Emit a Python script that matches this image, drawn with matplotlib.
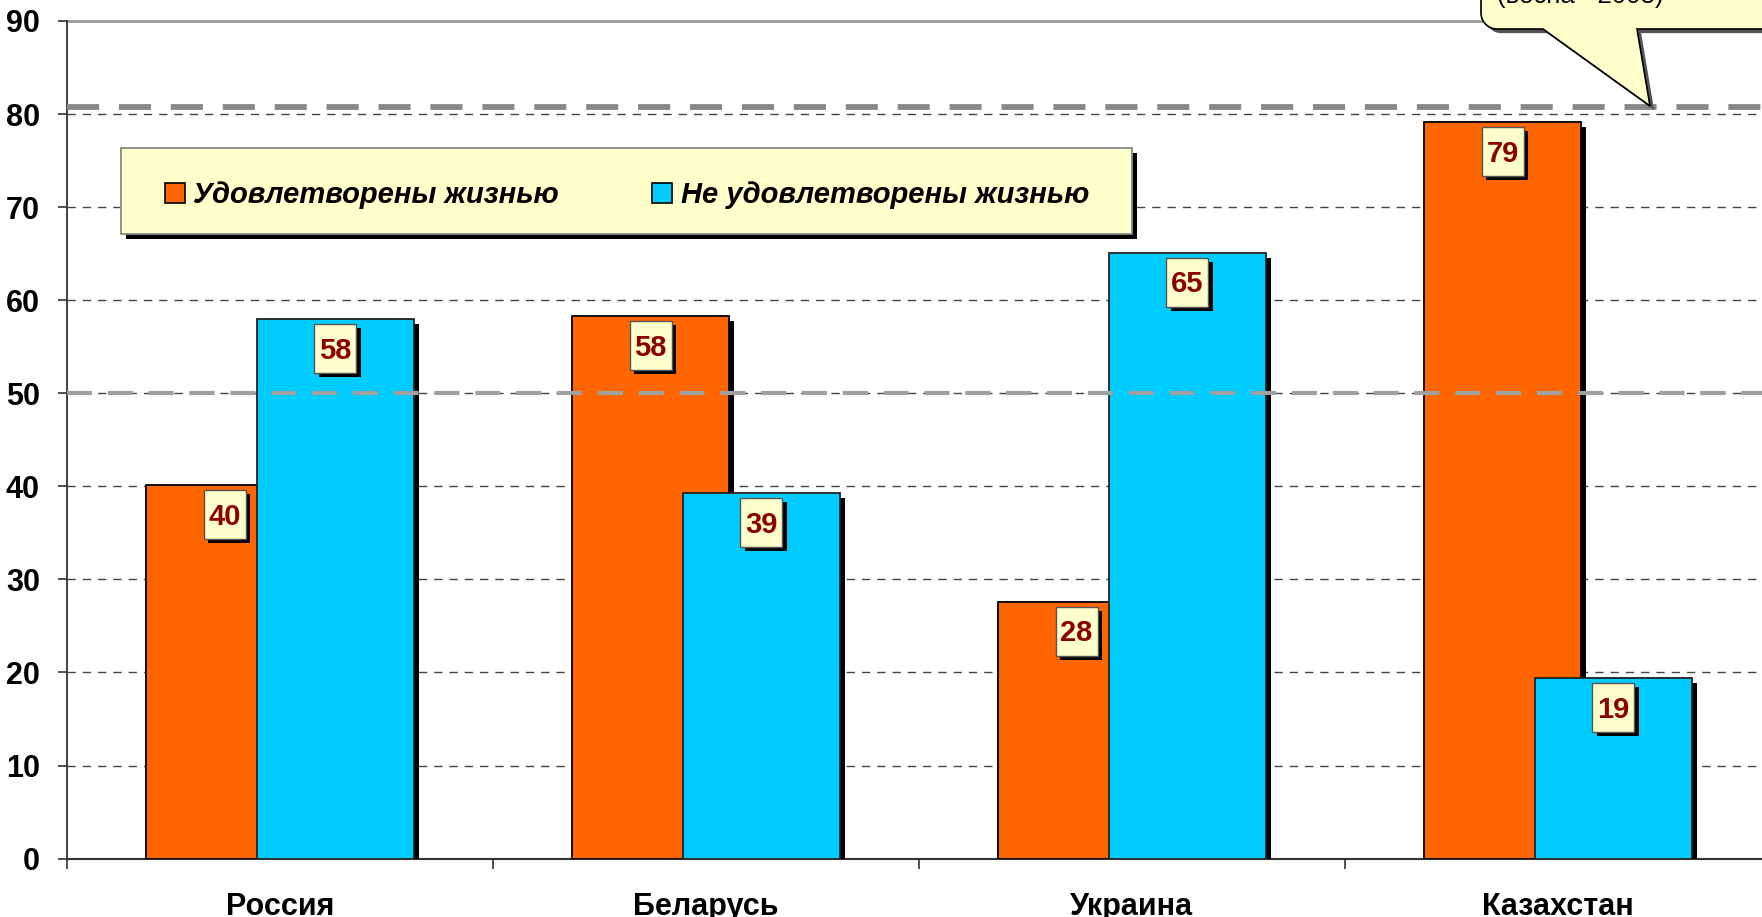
import matplotlib
matplotlib.use('Agg')
import matplotlib.pyplot as plt
import matplotlib.patheffects as pe
import matplotlib.transforms as mtransforms
from matplotlib.patches import Rectangle, Polygon
import numpy as np

# ---------------- data ----------------
countries = ['Россия', 'Беларусь', 'Украина', 'Казахстан']
satisfied = [40.1, 58.3, 27.6, 79.1]
not_satisfied = [58.0, 39.3, 65.1, 19.4]
series_names = ['Удовлетворены жизнью', 'Не удовлетворены жизнью']
ref_lines = [80.8, 50.0]
yticks = list(range(0, 91, 10))
callout_text = '(весна - 2008)'

# ---------------- style ----------------
W, H = 1762, 917
DPI = 100
ORANGE = '#FF6600'
BLUE = '#00CCFF'
LABEL_BG = '#FFFFCC'
LABEL_FG = '#8B0000'
FONT = 'Liberation Sans'

plt.rcParams['font.family'] = [FONT, 'DejaVu Sans']

fig = plt.figure(figsize=(W / DPI, H / DPI), dpi=DPI)
fig.patch.set_facecolor('white')

def fx(px):
    return px / W

def fy(py):
    return 1 - py / H

ax_left, ax_right = 67, 1771
ax_top, ax_bottom = 21, 858.6
ax = fig.add_axes([fx(ax_left), fy(ax_bottom), (ax_right - ax_left) / W, (ax_bottom - ax_top) / H])

x = np.arange(len(countries))
width = 0.37
off = 0.13

shadow = [pe.SimplePatchShadow(offset=(3.6, -3.6), shadow_rgbFace='black', alpha=1.0), pe.Normal()]

b1 = ax.bar(x - off, satisfied, width, color=ORANGE, edgecolor='black', linewidth=1.3, zorder=3)
b2 = ax.bar(x + off, not_satisfied, width, color=BLUE, edgecolor='#222222', linewidth=1.3, zorder=4)
for b in list(b1) + list(b2):
    b.set_path_effects(shadow)

# reference lines
ax.axhline(ref_lines[0], color='#888888', lw=4.2, dashes=(5.5, 3.4), zorder=5)
ax.axhline(ref_lines[1], color='#A0A0A0', lw=3.0, dashes=(6, 3.8), zorder=5)

# value labels: box 42x49 px, top 5 px below the bar top
box_shadow = [pe.SimplePatchShadow(offset=(3.0, -2.8), shadow_rgbFace='black', alpha=1.0), pe.Normal()]
for xs, vals in ((x - off, satisfied), (x + off, not_satisfied)):
    for xi, v in zip(xs, vals):
        tr = fig.dpi_scale_trans + mtransforms.ScaledTranslation(xi, v, ax.transData)
        box = Rectangle((-0.21, -0.54), 0.42, 0.49, transform=tr, fc=LABEL_BG, ec='#555555',
                        lw=1.0, zorder=7)
        box.set_path_effects(box_shadow)
        ax.add_patch(box)
        ax.annotate(f'{v:.0f}', xy=(xi, v), xytext=(0, -28.6), textcoords='offset points',
                    ha='center', va='baseline', fontsize=21, fontweight='bold', color=LABEL_FG,
                    zorder=8)

# axes
ax.set_xlim(-0.5, len(countries) - 0.5)
ax.set_ylim(0, 90)
ax.set_yticks(yticks)
ax.set_yticklabels([str(v) for v in yticks], fontsize=22, fontweight='bold')
ax.tick_params(axis='y', length=6.5, width=1.2, pad=13, color='#333333')
major_x = np.arange(-0.5, len(countries), 1.0)
ax.set_xticks(major_x)
ax.set_xticklabels([''] * len(major_x))
ax.tick_params(axis='x', which='major', length=7.5, width=1.2, color='#333333')
ax.set_xticks(x, minor=True)
ax.set_xticklabels(countries, minor=True, fontsize=22, fontweight='bold')
ax.tick_params(axis='x', which='minor', length=0, pad=24)

for yv in yticks[1:-1]:
    ax.axhline(yv, color='#444444', lw=1.0, dashes=(6, 5), zorder=1)
ax.axhline(90, color='#999999', lw=2, zorder=1, clip_on=False)

ax.spines['top'].set_visible(False)
ax.spines['right'].set_visible(False)
ax.spines['left'].set_color('#333333')
ax.spines['left'].set_linewidth(1.3)
ax.spines['bottom'].set_color('#333333')
ax.spines['bottom'].set_linewidth(1.5)
ax.set_facecolor('white')

# legend frame (manual) and legend
lx0, lx1, ly0, ly1 = 121, 1132, 148, 234
frame = Rectangle((fx(lx0), fy(ly1)), (lx1 - lx0) / W, (ly1 - ly0) / H, transform=fig.transFigure,
                  fc=LABEL_BG, ec='#888888', lw=1.3, clip_on=False, zorder=10)
frame.set_path_effects([pe.SimplePatchShadow(offset=(3.6, -3.6), shadow_rgbFace='black', alpha=1.0), pe.Normal()])
ax.add_patch(frame)

handles = [Rectangle((0, 0), 1, 1, fc=ORANGE, ec='black', lw=1.2),
           Rectangle((0, 0), 1, 1, fc=BLUE, ec='black', lw=1.2)]
leg = ax.legend(handles, series_names, loc='center left', bbox_to_anchor=(fx(165), fy(195)),
                bbox_transform=fig.transFigure, ncol=2, frameon=False,
                prop=dict(family=FONT, weight='bold', style='italic', size=21),
                handlelength=0.67, handleheight=0.67, handletextpad=0.3, columnspacing=3.2,
                borderpad=0, borderaxespad=0)
leg.set_zorder(11)

# callout (top right, partly cut by the figure edge)
r = 16
corner = [(1481 + r - r * np.cos(a), 29 - r + r * np.sin(a)) for a in np.linspace(0, np.pi / 2, 10)]
pts = [(1481, -60)] + corner + [(1543, 29), (1650, 106), (1637, 29), (1800, 29), (1800, -60)]
pts_fig = [(fx(px), fy(py)) for px, py in pts]
call = Polygon(pts_fig, closed=True, transform=fig.transFigure, fc=LABEL_BG, ec='black', lw=1.2,
               clip_on=False, zorder=10)
call.set_path_effects([pe.SimplePatchShadow(offset=(3, -3), shadow_rgbFace='#555555', alpha=1.0), pe.Normal()])
ax.add_patch(call)
ax.text(fx(1497), fy(3), callout_text, transform=fig.transFigure, ha='left', va='baseline',
        fontsize=18.5, color='black', zorder=11, clip_on=False)

fig.savefig('out.png', dpi=DPI)
